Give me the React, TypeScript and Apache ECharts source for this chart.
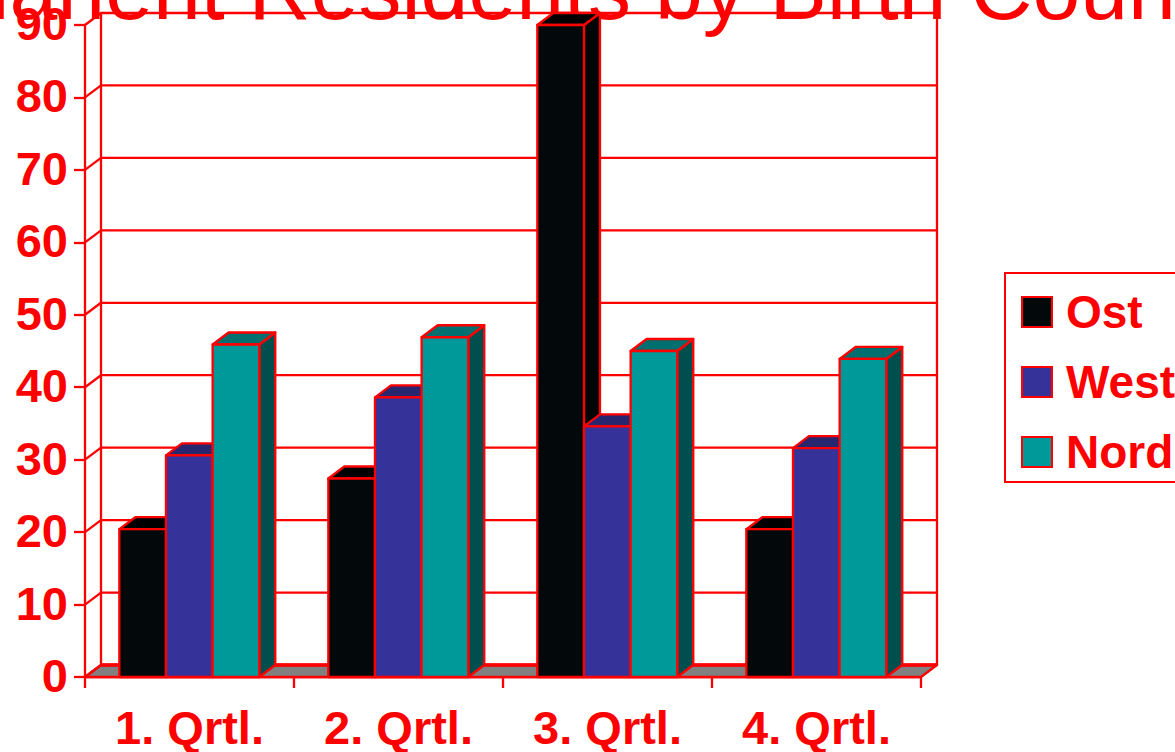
import React, { useEffect, useRef } from "react";
import * as echarts from "echarts";

const categories = ["1. Qrtl.", "2. Qrtl.", "3. Qrtl.", "4. Qrtl."];
const ost = [20.4, 27.4, 90, 20.4];
const west = [30.6, 38.6, 34.6, 31.6];
const nord = [45.9, 46.9, 45, 43.9];
const yTicks = [0, 10, 20, 30, 40, 50, 60, 70, 80, 90];
const titleText = "Permanent Residents by Birth Country";

const RED = "#ff0000";
const FONT = '"Liberation Sans", Arial, sans-serif';
const DX = 16;
const DY = -12;
const BAR_SHARE = 0.2232;
const LW = 2.3;

const palette = [
  { name: "Ost", values: ost, front: "#03080a", top: "#000000", side: "#020506" },
  { name: "West", values: west, front: "#353399", top: "#28266f", side: "#1f1e5c" },
  { name: "Nord", values: nord, front: "#009999", top: "#006f6f", side: "#004f4f" },
];

function wallsRenderItem(params: any, api: any) {
  const cs = params.coordSys;
  const left = cs.x;
  const right = cs.x + cs.width;
  const top = api.coord([0, 90])[1];
  const bottom = api.coord([0, 0])[1];
  const lineStyle = { stroke: RED, lineWidth: LW, fill: "none", lineJoin: "round" };
  const children: any[] = [
    {
      type: "polygon",
      shape: { points: [[left, bottom], [right, bottom], [right + DX, bottom + DY], [left + DX, bottom + DY]] },
      style: { fill: "#808080", stroke: RED, lineWidth: LW, lineJoin: "round" },
    },
    {
      type: "line",
      shape: { x1: left + DX, y1: bottom + DY, x2: right + DX, y2: bottom + DY },
      style: { stroke: RED, lineWidth: 3.5 },
    },
    {
      type: "line",
      shape: { x1: left + DX, y1: top + DY, x2: left + DX, y2: bottom + DY },
      style: lineStyle,
    },
    {
      type: "line",
      shape: { x1: right + DX, y1: top + DY, x2: right + DX, y2: bottom + DY },
      style: lineStyle,
    },
  ];
  yTicks.forEach((t) => {
    const y = api.coord([0, t])[1];
    children.push({
      type: "polyline",
      shape: { points: [[left, y], [left + DX, y + DY], [right + DX, y + DY]] },
      style: lineStyle,
    });
  });
  return { type: "group", children };
}

function barRenderItem(idx: number, colors: (typeof palette)[number]) {
  return (_params: any, api: any) => {
    const cat = api.value(0);
    const val = api.value(1);
    const base = api.coord([cat, 0]);
    const topPt = api.coord([cat, val]);
    const w = api.size([1, 0])[0] * BAR_SHARE;
    const x0 = base[0] - 1.5 * w + idx * w - 0.2;
    const x1 = x0 + w;
    const yB = base[1];
    const yT = topPt[1];
    const s = { stroke: RED, lineWidth: LW, lineJoin: "round" };
    return {
      type: "group",
      children: [
        {
          type: "polygon",
          shape: { points: [[x1, yT], [x1 + DX, yT + DY], [x1 + DX, yB + DY], [x1, yB]] },
          style: { ...s, fill: colors.side },
        },
        {
          type: "polygon",
          shape: { points: [[x0, yT], [x0 + DX, yT + DY], [x1 + DX, yT + DY], [x1, yT]] },
          style: { ...s, fill: colors.top },
        },
        {
          type: "polygon",
          shape: { points: [[x0, yT], [x1, yT], [x1, yB], [x0, yB]] },
          style: { ...s, fill: colors.front },
        },
      ],
    };
  };
}

export default function App() {
  const ref = useRef<HTMLDivElement>(null);
  useEffect(() => {
    document.body.style.margin = "0";
    document.body.style.overflow = "hidden";
    const chart = echarts.init(ref.current!, undefined, { renderer: "svg" });
    chart.setOption({
      animation: false,
      backgroundColor: "#ffffff",
      title: {
        text: titleText,
        left: -196,
        top: -54.3,
        padding: 0,
        z: 1,
        textStyle: { color: RED, fontFamily: FONT, fontSize: 86, fontWeight: "normal" },
      },
      legend: {
        orient: "vertical",
        left: 1005,
        top: 273,
        padding: [16, 40, 7, 16],
        itemWidth: 30,
        itemHeight: 30,
        itemGap: 24,
        borderColor: RED,
        borderWidth: 2,
        icon: "rect",
        textStyle: { color: RED, fontFamily: FONT, fontSize: 46, fontWeight: "bold", padding: [0, 0, 0, 9] },
        data: palette.map((p) => ({
          name: p.name,
          itemStyle: { color: p.front, borderColor: RED, borderWidth: 2 },
        })),
      },
      grid: { left: 85, right: 254, top: 25, bottom: 75, containLabel: false },
      xAxis: {
        type: "category",
        data: categories,
        axisLine: { show: true, lineStyle: { color: RED, width: LW } },
        axisTick: { show: true, length: 11, lineStyle: { color: RED, width: LW } },
        axisLabel: { color: RED, fontFamily: FONT, fontSize: 47, fontWeight: "bold", margin: 31, lineHeight: 38 },
      },
      yAxis: {
        type: "value",
        min: 0,
        max: 90,
        interval: 10,
        axisLine: { show: true, lineStyle: { color: RED, width: LW } },
        axisTick: { show: true, length: 11, lineStyle: { color: RED, width: LW } },
        splitLine: { show: false },
        axisLabel: {
          margin: 17,
          formatter: "{n|{value}}",
          rich: { n: { color: RED, fontFamily: FONT, fontSize: 47, fontWeight: "bold", padding: [0, 0, 3, 0] } },
        },
      },
      series: [
        {
          type: "custom",
          silent: true,
          z: 2,
          clip: false,
          renderItem: wallsRenderItem,
          data: [[0, 0]],
          encode: { x: 0, y: 1 },
        },
        ...palette.map((p, i) => ({
          type: "custom",
          name: p.name,
          z: 3,
          clip: false,
          itemStyle: { color: p.front },
          renderItem: barRenderItem(i, p),
          data: p.values.map((v, c) => [c, v]),
          encode: { x: 0, y: 1 },
        })),
      ],
    });
    return () => chart.dispose();
  }, []);
  return <div ref={ref} style={{ position: "fixed", left: 0, top: 0, width: 1175, height: 752 }} />;
}
